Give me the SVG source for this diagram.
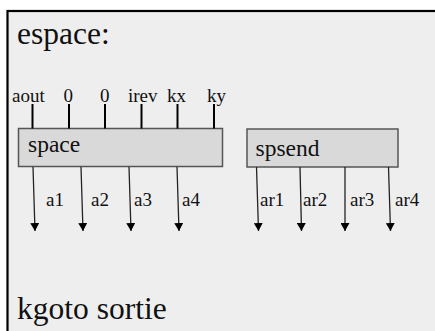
<svg xmlns="http://www.w3.org/2000/svg" width="435" height="331" viewBox="0 0 435 331">
<style>
text{fill:#111}
.box{fill:#d9d9d9;stroke:#555;stroke-width:1.5}
.in{stroke:#000;stroke-width:2}
.out{stroke:#222;stroke-width:1.3}
</style>
<defs>
<marker id="ah" markerWidth="9" markerHeight="9" refX="8" refY="4.5" orient="auto" markerUnits="userSpaceOnUse">
<path d="M0,0 L8,4.5 L0,9 Z" fill="#000"/>
</marker>
</defs>
<rect x="0" y="0" width="435" height="331" fill="#fff"/>
<g font-family="Liberation Serif, Times New Roman, serif">
<g id="frame">
<rect x="7.5" y="11" width="440" height="330" fill="#eeeeee" stroke="#000" stroke-width="2.2"/>
<text x="17" y="44" font-size="31.5">espace:</text>
<text x="17" y="319" font-size="31.5">kgoto sortie</text>
</g>
<g id="space" font-size="19">
<rect class="box" x="18.5" y="128.5" width="204" height="38"/>
<text x="28" y="151.5" font-size="23.5">space</text>
<text x="12" y="102">aout</text>
<text x="63.5" y="102">0</text>
<text x="100" y="102">0</text>
<text x="128" y="102">irev</text>
<text x="167" y="102">kx</text>
<text x="207" y="102">ky</text>
<text x="46" y="206">a1</text>
<text x="91" y="206">a2</text>
<text x="134" y="206">a3</text>
<text x="182" y="206">a4</text>
</g>
<g id="spsend" font-size="19">
<rect class="box" x="247" y="129" width="151" height="38"/>
<text x="255.5" y="156" font-size="23.5">spsend</text>
<text x="260" y="206">ar1</text>
<text x="303" y="206">ar2</text>
<text x="350" y="206">ar3</text>
<text x="395" y="206">ar4</text>
</g>
</g>
<g id="connectors">
<line class="in" x1="32.5" y1="104" x2="32.5" y2="128.5"/>
<line class="in" x1="69" y1="104" x2="69" y2="128.5"/>
<line class="in" x1="105" y1="104" x2="105" y2="128.5"/>
<line class="in" x1="141.5" y1="104" x2="141.5" y2="128.5"/>
<line class="in" x1="177.5" y1="104" x2="177.5" y2="128.5"/>
<line class="in" x1="214" y1="104" x2="214" y2="128.5"/>
<line class="out" x1="33" y1="167" x2="35" y2="231" marker-end="url(#ah)"/>
<line class="out" x1="81" y1="167" x2="83" y2="231" marker-end="url(#ah)"/>
<line class="out" x1="129" y1="167" x2="131" y2="231" marker-end="url(#ah)"/>
<line class="out" x1="177" y1="167" x2="179" y2="231" marker-end="url(#ah)"/>
<line class="out" x1="256.5" y1="167" x2="258.5" y2="231" marker-end="url(#ah)"/>
<line class="out" x1="300" y1="167" x2="301.5" y2="231" marker-end="url(#ah)"/>
<line class="out" x1="345" y1="167" x2="345" y2="231" marker-end="url(#ah)"/>
<line class="out" x1="388.5" y1="167" x2="390.5" y2="231" marker-end="url(#ah)"/>
</g>
</svg>
